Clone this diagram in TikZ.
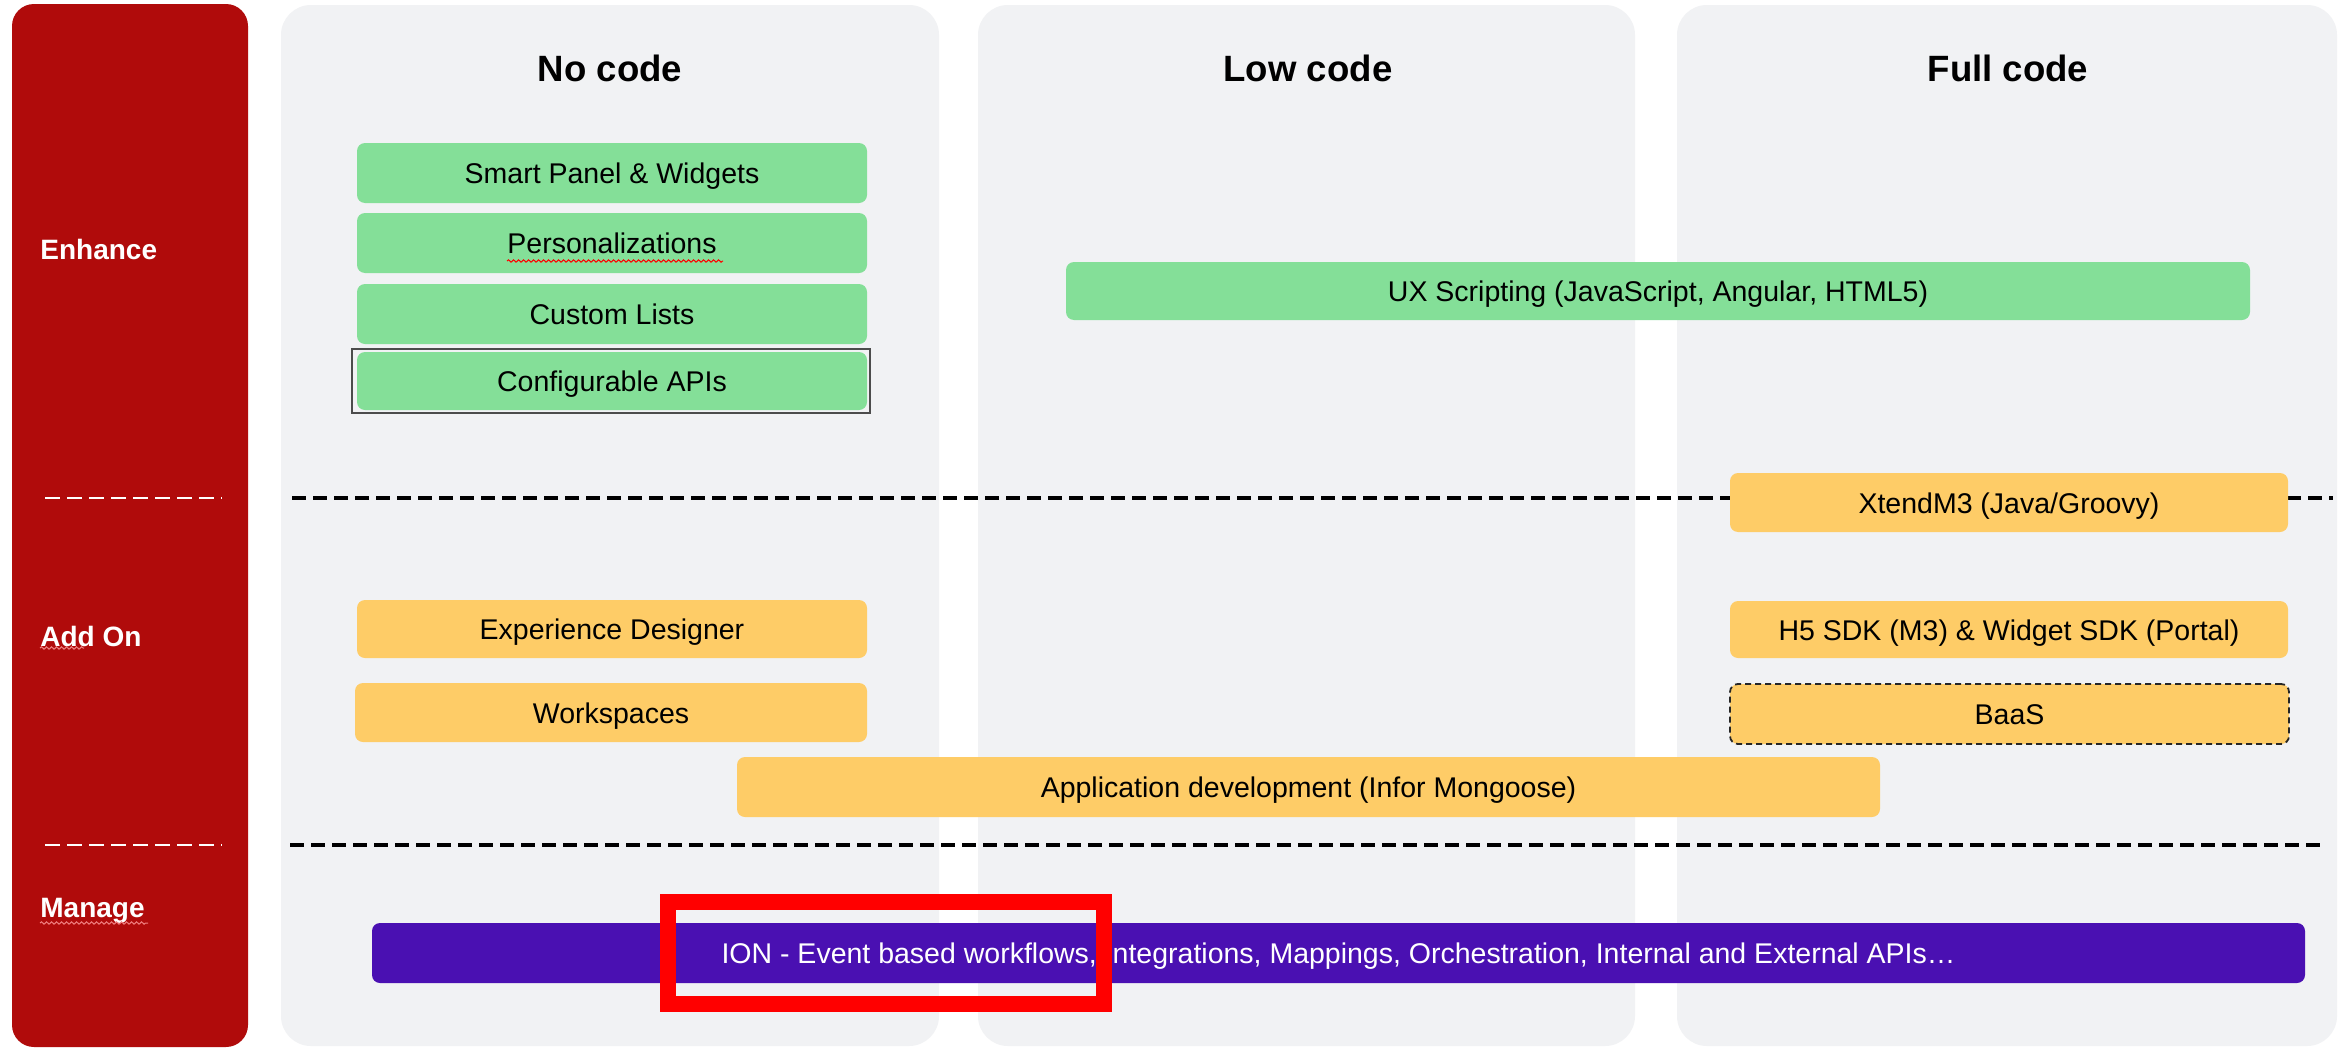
\documentclass[tikz,border=0pt]{standalone}
\usepackage{fontspec}
\setmainfont{Liberation Sans}
\usetikzlibrary{decorations.pathmorphing}
\definecolor{sidebar}{HTML}{B00B0B}
\definecolor{colgray}{HTML}{F1F2F4}
\definecolor{boxgreen}{HTML}{84DF98}
\definecolor{boxorange}{HTML}{FECC67}
\definecolor{boxpurple}{HTML}{4A10B2}
\definecolor{hlred}{HTML}{FF0000}
\definecolor{squigside}{HTML}{F08080}
\begin{document}
\begin{tikzpicture}[x=0.5pt,y=-0.5pt,
  every node/.style={font=\fontsize{14.25}{17}\selectfont, inner sep=0pt},
  box/.style={rounded corners=4pt, inner sep=0pt, text=black, minimum height=30pt, text height=1.2em, text depth=0.15em},
  gbox/.style={box, fill=boxgreen},
  obox/.style={box, fill=boxorange},
  pbox/.style={box, fill=boxpurple, text=white},
  coltitle/.style={font=\fontsize{18.3}{22}\selectfont\bfseries, text=black},
  side/.style={font=\fontsize{14}{17}\selectfont\bfseries, text=white, anchor=west},
  colpanel/.style={fill=colgray, rounded corners=15pt},
  sepline/.style={black, line width=1.75pt, dash pattern=on 7pt off 3.5pt},
  wsepline/.style={white, line width=1.25pt, dash pattern=on 7.5pt off 3.5pt},
  squig/.style={red, line width=0.5pt, decorate, decoration={snake, amplitude=0.6pt, segment length=2.5pt}}
]
\useasboundingbox (0,0) rectangle (2351,1049);
\fill[white] (0,0) rectangle (2351,1049);

% sidebar
\fill[sidebar, rounded corners=11pt] (12,4) rectangle (248,1047);
\node[side] (enh) at (40,249) {Enhance};
\node[side] (add) at (40,636) {Add On};
\node[side] (man) at (40,911) {Manage};
\draw[squig, squigside] (40,648) -- (84,648);
\draw[squig, squigside] (40,923) -- (148,923);
\coordinate (ws1a) at (45,498);
\coordinate (ws1b) at (222,498);
\coordinate (ws2a) at (45,845);
\coordinate (ws2b) at (222,845);
\draw[wsepline] (ws1a) -- (ws1b);
\draw[wsepline] (ws2a) -- (ws2b);

% column panels
\fill[colpanel] (281,5) rectangle (939,1046);
\fill[colpanel] (978,5) rectangle (1635,1046);
\fill[colpanel] (1677,5) rectangle (2337,1046);
\node[coltitle] (t1) at (610,68) {No code};
\node[coltitle] (t2) at (1308,68) {Low code};
\node[coltitle] (t3) at (2008,68) {Full code};

% separators
\coordinate (s1a) at (292,498);
\coordinate (s1b) at (2333,498);
\coordinate (s2a) at (290,845);
\coordinate (s2b) at (2325,845);
\draw[sepline] (s1a) -- (s1b);
\draw[sepline] (s2a) -- (s2b);

% Enhance
\node[gbox, minimum width=255pt] (spw) at (612,173) {Smart Panel \& Widgets};
\node[gbox, minimum width=255pt] (pers) at (612,243) {Personalizations};
\draw[squig] (507,261) -- (723,261);
\node[gbox, minimum width=255pt] (clist) at (612,314) {Custom Lists};
\node[draw=black!70, line width=0.75pt, minimum width=259pt, minimum height=32pt] (capiframe) at (611,381) {};
\node[gbox, minimum width=255pt, minimum height=29pt] (capi) at (612,381) {Configurable APIs};
\node[gbox, minimum width=592pt, minimum height=29pt] (ux) at (1658,291) {UX Scripting (JavaScript, Angular, HTML5)};

% Add On
\node[obox, minimum width=279pt, minimum height=29.5pt] (xt) at (2009,502.5) {XtendM3 (Java/Groovy)};
\node[obox, minimum width=255pt, minimum height=29pt] (exp) at (612,629) {Experience Designer};
\node[obox, minimum width=279pt, minimum height=28.5pt] (h5) at (2009,629.5) {H5 SDK (M3) \& Widget SDK (Portal)};
\node[obox, minimum width=256pt, minimum height=29.5pt] (ws) at (611,712.5) {Workspaces};
\node[obox, draw=black!85, line width=0.9pt, dash pattern=on 3pt off 2pt, minimum width=279.5pt, minimum height=30pt] (baas) at (2009.5,714) {BaaS};
\node[obox, minimum width=571.5pt] (app) at (1308.5,787) {Application development (Infor Mongoose)};

% Manage
\node[pbox, minimum width=966.5pt] (ion) at (1338.5,953) {ION - Event based workflows, Integrations, Mappings, Orchestration, Internal and External APIs…};

% highlight
\node[draw=hlred, line width=8pt, minimum width=218pt, minimum height=51pt] (hl) at (886,953) {};
\end{tikzpicture}
\end{document}
